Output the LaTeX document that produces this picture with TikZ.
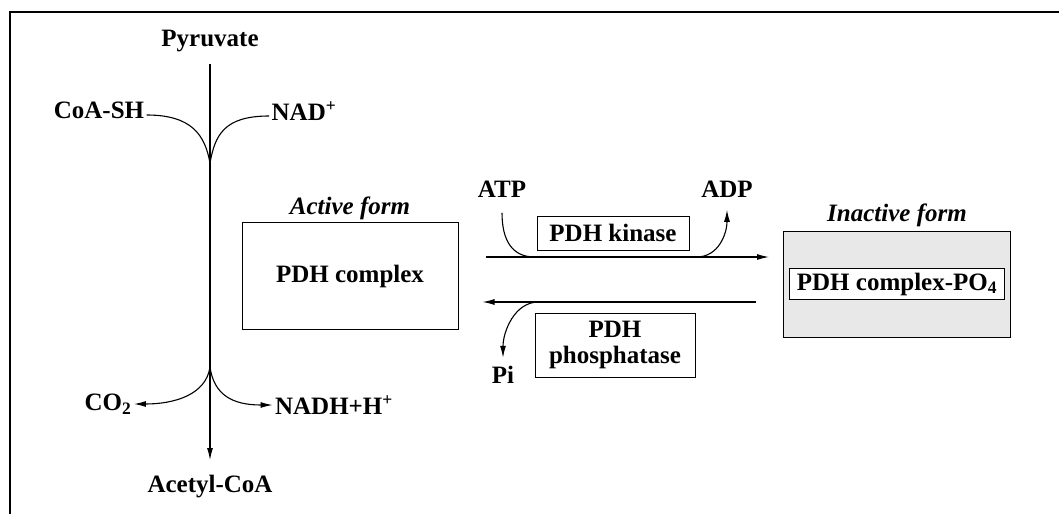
\documentclass[tikz,border=0pt]{standalone}
\usepackage{fontspec}
\setmainfont{Liberation Serif}
\usetikzlibrary{calc,positioning,arrows.meta}

\begin{document}
\begin{tikzpicture}[x=1pt,y=-1pt,
  chem/.style={inner sep=2pt, font=\fontsize{25}{26}\selectfont\bfseries},
  formlabel/.style={inner sep=2pt, font=\fontsize{25}{26}\selectfont\bfseries\itshape},
  block/.style={draw, line width=1pt, rectangle, align=center,
    font=\fontsize{25}{26}\selectfont\bfseries},
  arr/.style={-{Latex[length=12pt,width=6pt]}},
  line width=1.1pt,
  ]
  \useasboundingbox (0,0) rectangle (1059,514);

  % frame
  \draw (10,514) -- (10,12) -- (1059,12);

  \node (Pyruvate) [chem] at(210,41) {Pyruvate};
  \node (CoASH) [chem] at(99,110) {CoA-SH};
  \node (NADplus) [chem] at(304,111) {NAD\textsuperscript{+}};
  \node (CO2) [chem] at(108,404) {CO\textsubscript{2}};
  \node (NADH) [chem] at(334,405) {NADH+H\textsuperscript{+}};
  \node (AcetylCoA) [chem] at(210,487) {Acetyl-CoA};

  \coordinate (ForkIn) at(210,163);
  \coordinate (ForkOut) at(210,367);

  \draw [arr, shorten <=10pt, shorten >=13pt] (Pyruvate) -- (AcetylCoA);
  \draw ([yshift=-5pt]CoASH.east) .. controls +(45,0) and +(-5,-28) .. (ForkIn);
  \draw ([yshift=-5pt]NADplus.west) .. controls +(-45,0) and +(5,-28) .. (ForkIn);
  \draw [arr] (ForkOut) .. controls +(-4,28) and +(40,0) .. (CO2.east);
  \draw [arr] (ForkOut) .. controls +(4,28) and +(-40,0) .. (NADH.west);

  \node (Active) [block, minimum width=216pt, minimum height=107pt] at(350,276) {PDH complex};
  \node (ActiveLbl) [formlabel, above=0pt of Active] {Active form};

  \node (Inactive) [block, fill=black!9, minimum width=227pt, minimum height=106pt] at(897,284) {};
  \node (InactivePO4) [block, fill=white, minimum width=215pt, minimum height=31pt, inner sep=1pt] at(Inactive) {PDH complex-PO\textsubscript{4}};
  \node (InactiveLbl) [formlabel, above=1pt of Inactive] {Inactive form};

  \node (Kinase) [block, minimum width=152pt, minimum height=34pt] at(613,233) {PDH kinase};
  \node (Phosphatase) [block, minimum width=160pt, minimum height=64pt] at(615,345) {PDH\\phosphatase};

  \node (ATP) [chem] at(502,189) {ATP};
  \node (ADP) [chem] at(727,189) {ADP};
  \node (Pi) [chem] at(503,375) {Pi};

  \coordinate (FwdStart) at($(Active.east)+(27,-19)$);
  \coordinate (FwdEnd) at($(Inactive.west)+(-14,-27)$);
  \coordinate (RevStart) at($(Inactive.west)+(-27,18)$);
  \coordinate (RevEnd) at($(Active.east)+(24,26)$);

  \draw [arr] (FwdStart) -- (FwdEnd);
  \draw [arr] (RevStart) -- (RevEnd);

  \draw ([yshift=-13pt]ATP.south) .. controls +(0,28) and +(-22,0) .. ($(Active.east)+(76,-19)$);
  \draw [arr] ($(Active.east)+(238,-19)$) .. controls +(22,0) and +(0,24) .. ([yshift=-10pt]ADP.south);
  \draw [arr] ($(Active.east)+(80,26)$) .. controls +(-24,0) and +(0,-26) .. ([yshift=6pt]Pi.north);

\end{tikzpicture}
\end{document}
